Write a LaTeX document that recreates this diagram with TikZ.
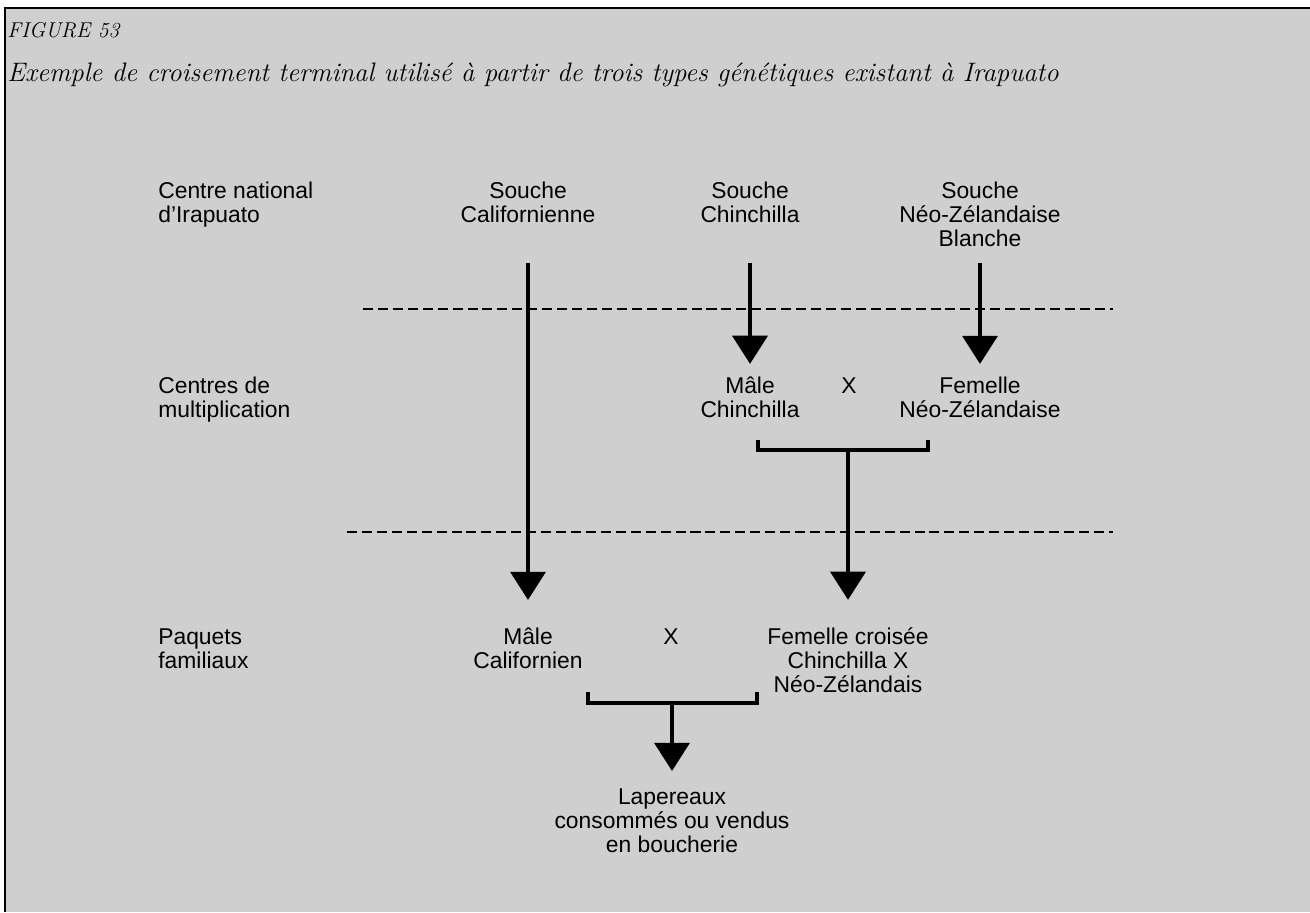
\documentclass[tikz,border=0pt]{standalone}
\usepackage{fontspec}
\setsansfont{Liberation Sans}
\usetikzlibrary{arrows.meta}
\begin{document}
\begin{tikzpicture}[x=0.02cm,y=-0.02cm,
  etiq/.style={font=\sffamily\fontsize{13}{13.6}\selectfont, align=center, anchor=base, inner sep=3pt},
  rang/.style={etiq, align=left, anchor=base west, inner sep=0pt},
  titre/.style={font=\itshape\fontsize{15.2}{18}\selectfont, anchor=base west, inner sep=0pt},
  fleche/.style={line width=1.8pt, -{Triangle[width=20pt,length=16pt]}},
  trait/.style={line width=1.8pt},
  tirets/.style={line width=1.4pt, dash pattern=on 5.7pt off 2.8pt}]
\useasboundingbox (0,0) rectangle (1310,912);
\fill[black!19] (5,8) rectangle (1310,912);
\draw[line width=1.2pt] (1310,8) -- (5,8) -- (5,912);
\node[titre, font=\itshape\fontsize{12.2}{14}\selectfont] (t1) at (7,38) {FIGURE 53};
\node[titre] (t2) at (7,82) {Exemple de croisement terminal utilisé à partir de trois types génétiques existant à Irapuato};
\node[rang] (n1) at (158,222) {Centre national\\d’Irapuato};
\node[rang] (n2) at (158,417) {Centres de\\multiplication};
\node[rang] (n3) at (158,668) {Paquets\\familiaux};
\node[etiq] (1) at (528,222) {Souche\\Californienne};
\node[etiq] (2) at (750,222) {Souche\\Chinchilla};
\node[etiq] (3) at (980,246) {Souche\\Néo-Zélandaise\\Blanche};
\node[etiq] (4) at (750,417) {Mâle\\Chinchilla};
\node[etiq] (x1) at (849,393) {X};
\node[etiq] (5) at (980,417) {Femelle\\Néo-Zélandaise};
\node[etiq] (6) at (528,668) {Mâle\\Californien};
\node[etiq] (x2) at (671,644) {X};
\node[etiq] (7) at (848,692) {Femelle croisée\\Chinchilla X\\Néo-Zélandais};
\node[etiq] (8) at (672,852) {Lapereaux\\consommés ou vendus\\en boucherie};
\coordinate (a1) at (528,263);
\coordinate (a2) at (750,263);
\coordinate (a3) at (980,263);
\coordinate (m1) at (848,450);
\coordinate (m2) at (672,703);
\draw[tirets] (363,309) -- (1113,309);
\draw[tirets] (347,532) -- (1113,532);
\path[draw,fleche,shorten >=12.5pt] (a1) -- (6.north);
\path[draw,fleche,shorten >=4pt] (a2) -- (4.north);
\path[draw,fleche,shorten >=4pt] (a3) -- (5.north);
\path[draw,trait] (758,440) |- (928,450) -- (928,440);
\path[draw,fleche,shorten >=12.5pt] (m1) -- (7.north);
\path[draw,trait] (588,692) |- (757,703) -- (757,692);
\path[draw,fleche,shorten >=6.8pt] (m2) -- (8.north);
\end{tikzpicture}
\end{document}
